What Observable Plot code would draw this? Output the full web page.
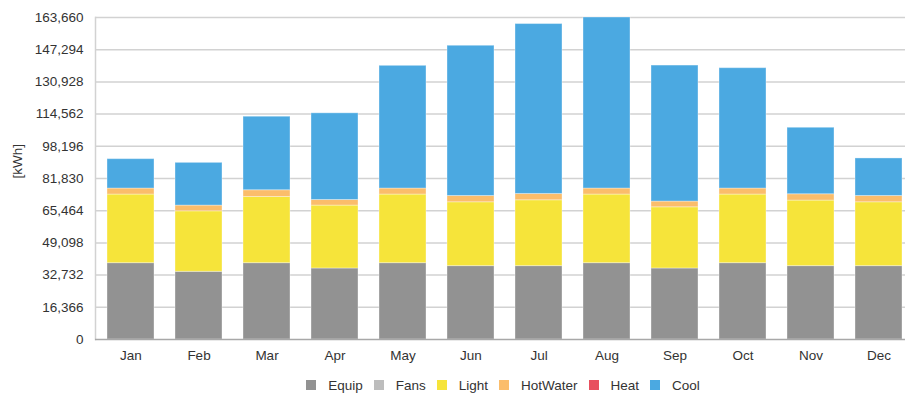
<!DOCTYPE html>
<html>
<head>
<meta charset="utf-8">
<script src="https://cdn.jsdelivr.net/npm/d3@7"></script>
<script src="https://cdn.jsdelivr.net/npm/@observablehq/plot@0.6"></script>
<style>
  html, body { margin: 0; padding: 0; background: #fff; overflow: hidden; }
  #chart { width: 905px; font-family: "Liberation Sans", Arial, sans-serif; }
  .leg-swatches { font-family: "Liberation Sans", Arial, sans-serif !important; font-size: 13.5px !important; color: #333; margin-bottom: 0 !important; }
  .leg-swatch { margin-right: 11px !important; }
  .leg-swatch > svg { margin-right: 12px !important; }
</style>
</head>
<body>
<div id="chart"></div>
<script>
// Monthly energy end-use breakdown, kWh
const months = ["Jan", "Feb", "Mar", "Apr", "May", "Jun", "Jul", "Aug", "Sep", "Oct", "Nov", "Dec"];
const series = ["Equip", "Fans", "Light", "HotWater", "Heat", "Cool"];
const colors = ["#929292", "#bdbdbd", "#f6e43a", "#fbbd6b", "#e8505f", "#4ba9e1"];

const equip    = [38800, 34400, 38800, 36100, 38800, 37300, 37300, 38800, 36100, 38800, 37300, 37300];
const fans     = [0, 0, 0, 0, 0, 0, 0, 0, 0, 0, 0, 0];
const light    = [34870, 30750, 33640, 31960, 34870, 32440, 33460, 34870, 31090, 34870, 33310, 32440];
const hotWater = [3060, 2910, 3420, 2850, 3060, 3210, 3210, 3060, 2910, 3060, 3210, 3210];
const heat     = [0, 0, 0, 0, 0, 0, 0, 0, 0, 0, 0, 0];
const cool     = [14930, 21720, 37370, 44050, 62370, 76350, 86360, 86930, 69130, 61170, 33800, 19070];

const yTicks = [0, 16366, 32732, 49098, 65464, 81830, 98196, 114562, 130928, 147294, 163660];

const valuesBySeries = [equip, fans, light, hotWater, heat, cool];
const data = months.flatMap((month, i) =>
  series.map((s, k) => ({month, series: s, value: valuesBySeries[k][i]}))
);

const font = "Liberation Sans, Arial, sans-serif";

const chart = Plot.plot({
  width: 905,
  height: 365,
  marginLeft: 95,
  marginRight: -9,
  marginTop: 17,
  marginBottom: 26,
  style: {fontFamily: font, fontSize: "13.5px", color: "#333", background: "#fff"},
  x: {domain: months, paddingInner: 0.31, paddingOuter: 0.155, label: null},
  y: {domain: [0, 163660], ticks: yTicks, label: null},
  color: {domain: series, range: colors},
  marks: [
    Plot.ruleY(yTicks.slice(1), {stroke: "#d2d2d2", strokeWidth: 1.5}),
    Plot.frame({anchor: "left", stroke: "#d2d2d2", strokeWidth: 1.5}),
    Plot.barY(data, {
      x: "month", y: "value", fill: "series",
      stroke: "#fff", strokeOpacity: 0.35, strokeWidth: 1
    }),
    Plot.ruleY([0], {stroke: "#a8a8a8", strokeWidth: 1.5}),
    Plot.axisY({ticks: yTicks, tickSize: 0, tickPadding: 12, tickFormat: d3.format(","), fontSize: 13.5, label: null}),
    Plot.axisX({tickSize: 0, tickPadding: 11, fontSize: 13.5, label: null}),
    Plot.text(["[kWh]"], {frameAnchor: "left", dx: -78, rotate: -90, fontSize: 13.5, fill: "#333"})
  ]
});

const legend = Plot.legend({
  color: {domain: series, range: colors},
  legend: "swatches",
  swatchSize: 10,
  className: "leg",
  style: {justifyContent: "center", paddingLeft: "112px", paddingTop: "12px", minHeight: "16px"}
});

const root = document.getElementById("chart");
root.append(chart, legend);
</script>
</body>
</html>
